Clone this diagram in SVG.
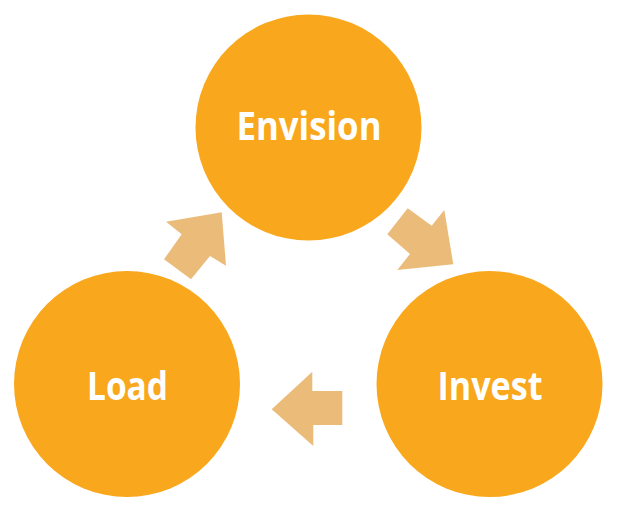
<svg xmlns="http://www.w3.org/2000/svg" width="618" height="513" viewBox="0 0 618 513">
<style>
.node{fill:#F9A71C}
.lbl{fill:#FFFFFF;font-family:"Open Sans","Noto Sans",sans-serif;font-weight:bold;font-size:40px;text-anchor:middle}
.arr{fill:#EBBC79}
</style>
<rect width="618" height="513" fill="#FFFFFF"/>
<g id="connectors">
<polygon class="arr" points="221.7,212.3 166,221.7 181.7,234.3 164,259.3 191,279.3 210,256 226,265.7"/>
<polygon class="arr" points="387.3,234.3 407.7,208.3 431.7,225.7 444.3,210 453.3,264.3 397.3,270 410,254"/>
<polygon class="arr" points="271.7,409.3 312.3,371.7 312.3,391 342.3,391 342.3,425 313.3,425 313.3,446"/>
</g>
<g id="envision">
<circle class="node" cx="308.5" cy="127.5" r="113"/>
<text class="lbl" x="309" y="140" textLength="145" lengthAdjust="spacingAndGlyphs">Envision</text>
</g>
<g id="load">
<circle class="node" cx="127" cy="384" r="113"/>
<text class="lbl" x="127.5" y="400" textLength="81" lengthAdjust="spacingAndGlyphs">Load</text>
</g>
<g id="invest">
<circle class="node" cx="489.5" cy="384" r="113"/>
<text class="lbl" x="490" y="400" textLength="105" lengthAdjust="spacingAndGlyphs">Invest</text>
</g>
</svg>
